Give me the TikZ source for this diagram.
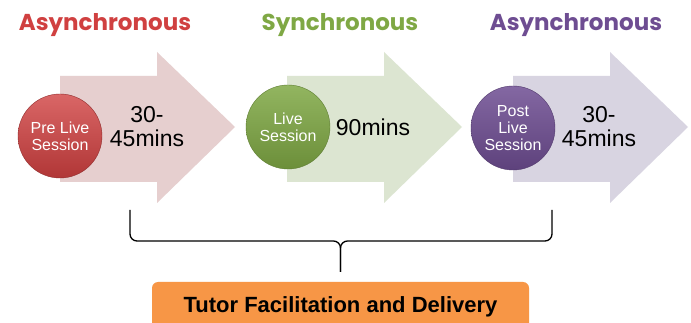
\documentclass[tikz,border=0pt]{standalone}
\usepackage{fontspec}
\setmainfont{Liberation Sans}
\newfontfamily\headfont{Poppins}
\usetikzlibrary{positioning}

\definecolor{asyncred}{HTML}{D04040}
\definecolor{syncgreen}{HTML}{7FA844}
\definecolor{asyncpurple}{HTML}{6E4D92}
\definecolor{arrowpink}{HTML}{E6CFCF}
\definecolor{arrowgreen}{HTML}{DCE5D1}
\definecolor{arrowlilac}{HTML}{D8D4E1}
\definecolor{tutororange}{HTML}{F79646}

\tikzset{
  phase/.style={font=\headfont\bfseries\fontsize{23}{25}\selectfont},
  session/.style={circle, minimum size=84pt, inner sep=0pt, align=center,
    text=white, font=\fontsize{16}{17}\selectfont},
  mins/.style={align=center, font=\fontsize{23}{24}\selectfont},
  brace/.style={line width=1.3pt, rounded corners=7pt},
}

\begin{document}
\begin{tikzpicture}[x=1pt,y=-1pt]
    \clip (0,0) rectangle (691,323);
    \fill[white] (0,0) rectangle (691,323);
    % block arrows
    \foreach \x/\c in {60/arrowpink,287/arrowgreen,513/arrowlilac}
      \fill[\c] (\x,76) -- ++(97,0) -- ++(0,-24) -- ++(78,75) -- ++(-78,76)
        -- ++(0,-21) -- ++(-97,0) -- cycle;
    % headings
    \node[phase, text=asyncred] (pretitle) at (105,25) {Asynchronous};
    \node[phase, text=syncgreen] (livetitle) at (340,25) {Synchronous};
    \node[phase, text=asyncpurple] (posttitle) at (576,25) {Asynchronous};
    % sessions
    \node[session, top color=asyncred!80!white, bottom color=asyncred!85!black,
      draw=asyncred!70!black] (pre) at (60,136) {Pre Live\\Session};
    \node[session, top color=syncgreen!85!white, bottom color=syncgreen!85!black,
      draw=syncgreen!75!black] (live) at (288,127) {Live\\Session};
    \node[session, top color=asyncpurple!85!white, bottom color=asyncpurple!85!black,
      draw=asyncpurple!75!black] (post) at (513,128) {Post\\Live\\Session};
    \node[mins] (premins) at (147,127) {30-\\45mins};
    \node[mins] (livemins) at (373,127) {90mins};
    \node[mins] (postmins) at (599,127) {30-\\45mins};
    % delivery box
    \node[fill=tutororange, rounded corners=6pt, minimum width=377pt, minimum height=50pt,
      font=\bfseries\fontsize{22}{24}\selectfont] (tutor) at (340.5,307)
      {Tutor Facilitation and Delivery};
    \coordinate (bl) at (130,210);
    \coordinate (br) at (552,210);
    \coordinate (bmid) at (340.5,241);
    \coordinate[above=10pt of tutor.north] (btip);
    \draw[brace] (bl) |- (bmid) -- (btip);
    \draw[brace] (br) |- (bmid) -- (btip);
\end{tikzpicture}
\end{document}
